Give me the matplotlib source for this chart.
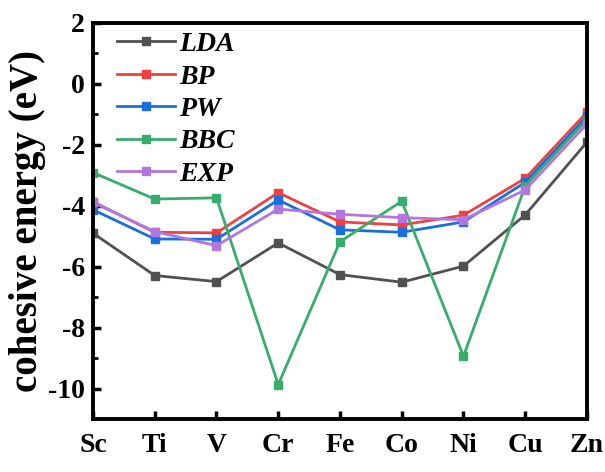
import matplotlib
matplotlib.use('Agg')
import matplotlib.pyplot as plt
from matplotlib.ticker import MultipleLocator

elements = ['Sc', 'Ti', 'V', 'Cr', 'Fe', 'Co', 'Ni', 'Cu', 'Zn']
lda = [-4.90, -6.29, -6.49, -5.22, -6.26, -6.51, -5.98, -4.30, -1.91]
bp = [-3.87, -4.87, -4.89, -3.57, -4.53, -4.63, -4.31, -3.10, -0.93]
pw = [-4.13, -5.09, -5.10, -3.81, -4.79, -4.87, -4.53, -3.23, -1.06]
bbc = [-2.91, -3.78, -3.74, -9.87, -5.18, -3.85, -8.94, -3.35, -1.17]
exp = [-3.89, -4.85, -5.31, -4.11, -4.28, -4.39, -4.46, -3.48, -1.31]

series = [('LDA', lda, '#515151'), ('BP', bp, '#F14040'), ('PW', pw, '#1A6FDF'),
          ('BBC', bbc, '#37AD6B'), ('EXP', exp, '#B177DE')]

plt.rcParams['font.family'] = 'Liberation Serif'
plt.rcParams['font.weight'] = 'bold'
plt.rcParams['axes.unicode_minus'] = False

fig = plt.figure(figsize=(6.05, 4.72), dpi=100)
ax = fig.add_axes([0.1537, 0.1123, 0.8165, 0.839])

x = list(range(len(elements)))
for name, vals, col in series:
    ax.plot(x, vals, '-s', color=col, lw=2, ms=6, label=name)

ax.set_xlim(0, len(elements) - 1)
ax.set_ylim(-11, 2)
ax.set_xticks(x)
ax.set_xticklabels(elements)
ax.yaxis.set_major_locator(MultipleLocator(2))
ax.yaxis.set_minor_locator(MultipleLocator(1))
ax.tick_params(axis='both', which='major', direction='in', length=6, width=2.5,
               labelsize=20, pad=6)
ax.tick_params(axis='x', which='major', pad=10)
ax.tick_params(axis='y', which='minor', direction='in', length=3.5, width=2)
for t in ax.get_xticklabels() + ax.get_yticklabels():
    t.set_fontweight('bold')
for s in ax.spines.values():
    s.set_linewidth(2.8)

ax.set_ylabel('cohesive energy (eV)', fontsize=28, fontweight='bold', labelpad=1)

leg = ax.legend(loc='upper left', bbox_to_anchor=(0.02, 1.013), frameon=False,
                handlelength=2.1, borderaxespad=0.1,
                prop={'size': 20, 'weight': 'bold', 'style': 'italic'},
                labelspacing=0.25, handletextpad=0.15)

fig.savefig('out.png', dpi=100)
